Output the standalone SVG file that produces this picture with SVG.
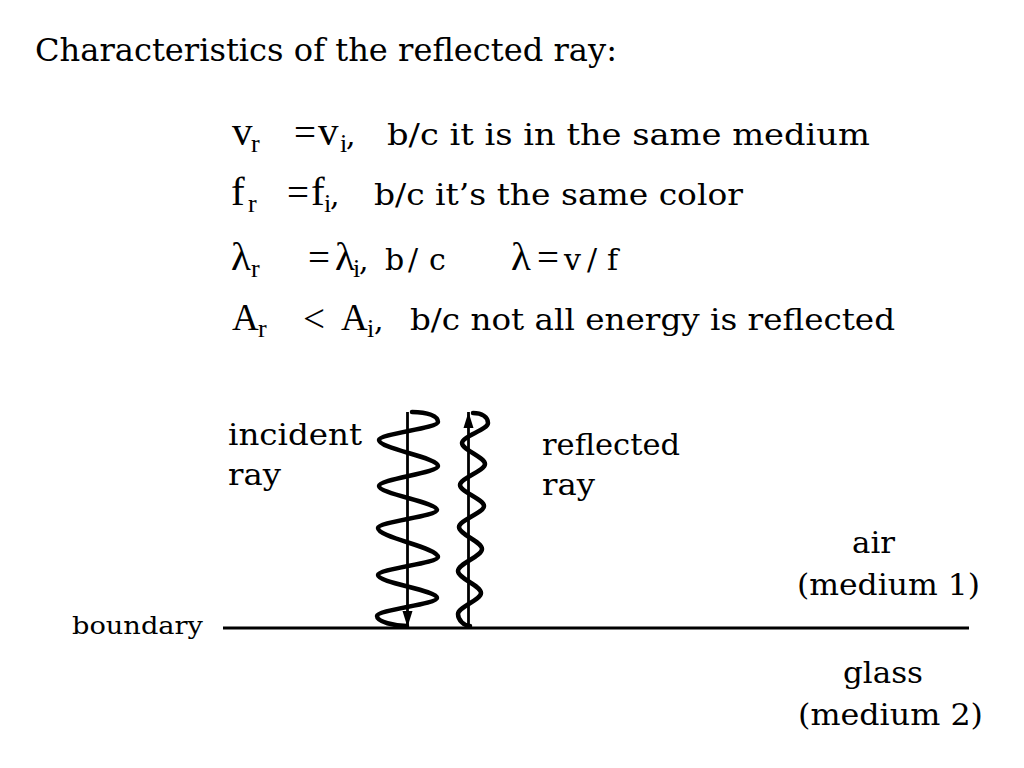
<svg xmlns="http://www.w3.org/2000/svg" width="1024" height="768" viewBox="0 0 1024 768">
<style>
  .t { font-family: "DejaVu Serif", "Liberation Serif", serif; font-size: 30px; fill: #000; }
  .title { font-family: "DejaVu Serif", "Liberation Serif", serif; font-size: 31px; fill: #000; }
  .s { font-family: "Liberation Serif", "Times New Roman", serif; font-size: 41px; fill: #000; }
  .a { font-family: "Liberation Serif", "Times New Roman", serif; font-size: 37px; fill: #000; }
  .op { font-family: "Liberation Serif", "Times New Roman", serif; font-size: 39px; fill: #000; }
  .sub { font-family: "Liberation Serif", "Times New Roman", serif; font-size: 26px; fill: #000; }
  .small { font-family: "DejaVu Serif", "Liberation Serif", serif; font-size: 24px; fill: #000; }
  .wave { fill: none; stroke: #000; stroke-width: 4.5; stroke-linecap: round; stroke-linejoin: round; }
  .ray { fill: none; stroke: #000; stroke-width: 2.8; }
</style>
<defs>
  <marker id="ah" markerUnits="userSpaceOnUse" markerWidth="17" markerHeight="11" refX="16" refY="5.5" orient="auto">
    <path d="M0,0.5 L16,5.5 L0,10.5 z" fill="#000"/>
  </marker>
</defs>
<rect width="1024" height="768" fill="#fff"/>

<g id="title">
  <text class="title" x="35" y="61" textLength="582" lengthAdjust="spacingAndGlyphs">Characteristics of the reflected ray:</text>
</g>

<g id="line-v">
  <text class="s" x="232" y="145">v</text>
  <text class="sub" x="251" y="152">r</text>
  <text class="op" x="294" y="146">=</text>
  <text class="s" x="318" y="145">v</text>
  <text class="sub" x="340" y="152">i</text>
  <text class="t" x="346" y="145">,</text>
  <text class="t" x="387" y="145" textLength="483" lengthAdjust="spacingAndGlyphs">b/c it is in the same medium</text>
</g>

<g id="line-f">
  <text class="s" x="231" y="205">f</text>
  <text class="sub" x="248" y="212">r</text>
  <text class="op" x="287" y="206">=</text>
  <text class="s" x="311" y="205">f</text>
  <text class="sub" x="324" y="212">i</text>
  <text class="t" x="330" y="205">,</text>
  <text class="t" x="374" y="205" textLength="369" lengthAdjust="spacingAndGlyphs">b/c it’s the same color</text>
</g>

<g id="line-lambda">
  <text class="s" x="231" y="270">λ</text>
  <text class="sub" x="251" y="277">r</text>
  <text class="op" x="308" y="271">=</text>
  <text class="s" x="335" y="270">λ</text>
  <text class="sub" x="353" y="277">i</text>
  <text class="t" x="359" y="270">,</text>
  <text class="t" x="385 408 429" y="270">b/c</text>
  <text class="s" x="511" y="270">λ</text>
  <text class="op" x="537" y="271">=</text>
  <text class="t" x="564 587 607" y="270">v/f</text>
</g>

<g id="line-A">
  <text class="a" x="232" y="330">A</text>
  <text class="sub" x="258" y="337">r</text>
  <text class="op" x="303" y="332">&lt;</text>
  <text class="a" x="341" y="330">A</text>
  <text class="sub" x="367" y="337">i</text>
  <text class="t" x="374" y="330">,</text>
  <text class="t" x="410" y="330" textLength="485" lengthAdjust="spacingAndGlyphs">b/c not all energy is reflected</text>
</g>

<g id="incident-label">
  <text class="t" x="228" y="445" textLength="134" lengthAdjust="spacingAndGlyphs">incident</text>
  <text class="t" x="228" y="485" textLength="53" lengthAdjust="spacingAndGlyphs">ray</text>
</g>

<g id="reflected-label">
  <text class="t" x="542" y="455" textLength="138" lengthAdjust="spacingAndGlyphs">reflected</text>
  <text class="t" x="542" y="495" textLength="53" lengthAdjust="spacingAndGlyphs">ray</text>
</g>

<g id="boundary-label">
  <text class="small" x="72" y="634" textLength="131" lengthAdjust="spacingAndGlyphs">boundary</text>
</g>

<g id="air-label">
  <text class="t" x="852" y="553" textLength="43" lengthAdjust="spacingAndGlyphs">air</text>
  <text class="t" x="797" y="595" textLength="183" lengthAdjust="spacingAndGlyphs">(medium 1)</text>
</g>

<g id="glass-label">
  <text class="t" x="843" y="683" textLength="80" lengthAdjust="spacingAndGlyphs">glass</text>
  <text class="t" x="798" y="725" textLength="185" lengthAdjust="spacingAndGlyphs">(medium 2)</text>
</g>

<g id="boundary">
  <line x1="223" y1="628" x2="969" y2="628" stroke="#000" stroke-width="3"/>
</g>

<g id="incident-wave">
  <path class="wave" d="M412,412 C428,412 438,416 438,422 C438,428 379,434 379,440 C379,448.7 438,457.3 438,466 C438,472.7 379,479.3 379,486 C379,494 437,502 437,510 C437,516 378,522 378,528 C378,537.7 438,547.3 438,557 C438,563 378,569 378,575 C378,582.7 437,590.3 437,598 C437,604 377,610 377,616 C377,622 395,626 407,626"/>
</g>

<g id="reflected-wave">
  <path class="wave" d="M473,413 C482,413 488,417 488,423 C488,429.7 462,436.3 462,443 C462,450 485,457 485,464 C485,471 460,478 460,485 C460,492 484,499 484,506 C484,513 459,520 459,527 C459,534.3 482,541.7 482,549 C482,556.3 458,563.7 458,571 C458,578.3 481,585.7 481,593 C481,600 458,607 458,614 C458,620 464,626 470,626"/>
</g>

<g id="connectors">
  <line class="ray" x1="407.5" y1="412" x2="407.5" y2="627" marker-end="url(#ah)"/>
  <line class="ray" x1="468.5" y1="628" x2="468.5" y2="412" marker-end="url(#ah)"/>
</g>
</svg>
